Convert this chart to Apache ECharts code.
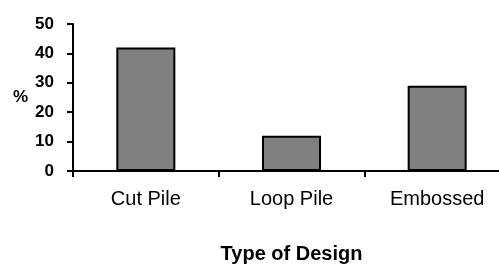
<!DOCTYPE html>
<html>
<head>
<meta charset="utf-8">
<script src="https://cdn.jsdelivr.net/npm/echarts@6/dist/echarts.min.js"></script>
<style>
  html, body { margin: 0; padding: 0; background: #fff; }
  #chart { width: 499px; height: 265px; }
</style>
</head>
<body>
<div id="chart"></div>
<script>
// data
var categories = ['Cut Pile', 'Loop Pile', 'Embossed']
var percents = [42, 12, 29]
var yTicks = [0, 10, 20, 30, 40, 50]

var chart = echarts.init(document.getElementById('chart'))
var font = 'Liberation Sans, Arial, sans-serif'

var option = {
  animation: false,
  grid: { left: 73, top: 24, bottom: 94, right: -11, outerBoundsMode: 'none' },
  xAxis: {
    type: 'category',
    data: categories,
    name: 'Type of Design',
    nameLocation: 'middle',
    nameGap: 73,
    nameTextStyle: { fontFamily: font, fontSize: 20, fontWeight: 'bold', color: '#000' },
    axisLine: { lineStyle: { color: '#000', width: 2 } },
    axisTick: { show: true, length: 6, lineStyle: { color: '#000', width: 2 } },
    axisLabel: { fontFamily: font, fontSize: 20, color: '#000', margin: 18 }
  },
  yAxis: {
    type: 'value',
    min: yTicks[0],
    max: yTicks[yTicks.length - 1],
    interval: 10,
    name: '%',
    nameLocation: 'middle',
    nameRotate: 0,
    nameGap: 45,
    nameTextStyle: { fontFamily: font, fontSize: 17, fontWeight: 'bold', color: '#000' },
    axisLine: { show: true, lineStyle: { color: '#000', width: 2 } },
    axisTick: { show: true, length: 6, lineStyle: { color: '#000', width: 2 } },
    splitLine: { show: false },
    axisLabel: { fontFamily: font, fontSize: 17, fontWeight: 'bold', color: '#000', margin: 19 }
  },
  series: [{
    type: 'bar',
    data: percents,
    barWidth: 59,
    itemStyle: { color: '#808080', borderColor: '#000', borderWidth: 2 }
  }]
}
chart.setOption(option)
</script>
</body>
</html>
